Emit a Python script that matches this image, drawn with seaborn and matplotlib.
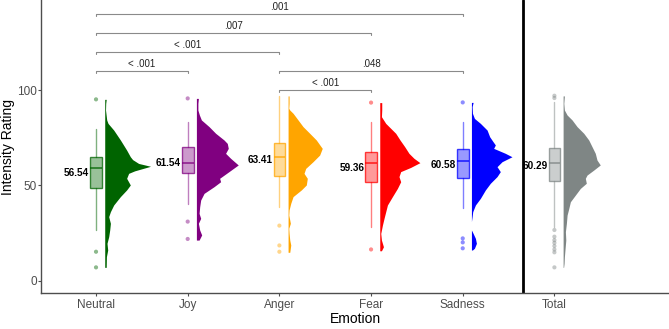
import numpy as np
import pandas as pd
import matplotlib
matplotlib.use("Agg")
import matplotlib.pyplot as plt
import matplotlib.colors as mcolors
import seaborn as sns

# --- data -----------------------------------------------------------------
emotions = ["Neutral", "Joy", "Anger", "Fear", "Sadness", "Total"]
colors = ["#006400", "#800080", "#FFA500", "#FF0000", "#0000FF", "#7F8685"]
means = [56.54, 61.54, 63.41, 59.36, 60.58, 60.29]

# box statistics
whislo = [26.6, 40.2, 38.5, 28.0, 37.9, 28.3]
q1 = [48.8, 56.5, 54.9, 51.6, 54.0, 52.5]
med = [59.3, 61.7, 65.0, 61.5, 62.6, 61.9]
q3 = [64.7, 69.9, 72.0, 67.7, 68.9, 69.4]
whishi = [79.4, 83.0, 96.9, 83.4, 83.4, 93.9]

out_neutral = [95.1, 15.2, 7.0]
out_joy = [95.6, 31.0, 21.9]
out_anger = [28.9, 18.5, 15.2]
out_fear = [93.4, 16.4]
out_sadness = [93.5, 22.2, 20.1, 17.0]
out_total = [97.0, 95.8, 26.6, 23.1, 21.3, 19.9, 18.2, 16.4, 14.9, 7.0]

# half-violin density profiles (rating, relative density)
dy_neutral = [95.1, 93.0, 89.5, 84.3, 82.5, 79.0, 73.8, 68.5, 65.0, 63.5, 61.5, 60.0, 58.8, 57.6, 56.3,
              53.7, 50.2, 47.6, 44.1, 39.7, 36.2, 33.6, 30.1, 26.6, 23.1, 19.6, 16.1, 12.6, 7.0]
dw_neutral = [1.5, 1.0, 0.8, 2.0, 3.3, 9.0, 15.7, 22.0, 25.7, 28.0, 34.0, 46.0, 38.0, 30.0, 24.0,
              22.0, 25.7, 22.0, 15.7, 9.0, 5.7, 4.0, 5.7, 5.0, 4.0, 2.3, 3.0, 1.7, 1.5]

dy_joy = [95.6, 93.0, 89.5, 86.9, 84.3, 80.8, 77.3, 73.8, 72.0, 69.4, 66.8, 64.2, 60.7, 57.2, 53.7,
          51.9, 49.3, 45.8, 42.3, 38.8, 35.3, 32.7, 30.1, 26.6, 24.0, 21.3]
dw_joy = [2.0, 1.5, 1.5, 3.0, 5.0, 12.7, 19.3, 27.7, 31.0, 32.0, 29.3, 34.3, 42.0, 32.7, 23.3,
          24.3, 17.7, 7.7, 4.3, 3.3, 2.7, 4.3, 2.0, 3.3, 5.3, 2.7]

dy_anger = [96.9, 93.0, 90.4, 89.5, 87.8, 84.3, 80.8, 77.3, 73.8, 69.4, 65.9, 62.4, 58.9, 56.3,
            53.7, 50.2, 47.6, 44.1, 40.6, 37.1, 34.4, 31.8, 30.1, 27.5, 24.8, 21.3, 18.7, 14.9]
dw_anger = [1.0, 1.0, 0.7, 1.7, 5.0, 10.0, 15.0, 21.7, 28.3, 34.3, 31.7, 25.0, 17.7, 16.0,
            19.3, 18.3, 13.3, 5.0, 2.7, 1.0, 0.7, 1.7, 2.3, 0.7, 1.0, 1.7, 2.7, 1.7]

dy_fear = [93.4, 89.5, 86.0, 82.5, 79.9, 77.3, 73.8, 70.3, 66.8, 64.2, 61.9, 59.4, 57.2, 54.6,
           51.9, 48.4, 44.1, 39.7, 36.2, 32.7, 29.2, 24.8, 21.3, 17.8, 15.7]
dw_fear = [2.0, 2.0, 1.7, 6.0, 11.0, 16.0, 20.3, 25.0, 29.3, 34.3, 40.3, 31.0, 21.0, 19.3,
           21.0, 17.7, 12.7, 7.7, 6.0, 4.3, 2.7, 1.0, 1.7, 3.7, 1.7]

dy_sadness = [93.5, 91.3, 87.8, 85.1, 82.5, 79.0, 75.5, 72.9, 71.2, 69.4, 66.8, 65.0, 62.4, 59.8,
              57.2, 54.6, 51.1, 47.6, 43.2, 39.7, 36.2, 33.6, 31.0, 26.6, 24.8, 22.2, 19.6, 17.0, 16.1]
dw_sadness = [1.7, 0.7, 1.0, 3.0, 9.0, 15.7, 18.3, 21.7, 24.0, 22.3, 34.0, 40.7, 30.7, 25.7,
              29.0, 25.7, 19.0, 14.0, 9.0, 4.0, 1.3, 0.7, 0.0, 0.0, 1.7, 4.0, 5.0, 3.0, 1.0]

dy_total = [96.9, 93.0, 89.5, 86.9, 84.3, 80.8, 77.3, 73.8, 70.3, 66.8, 63.3, 60.7, 58.0, 55.4,
            53.7, 51.1, 48.4, 44.9, 41.4, 37.9, 34.4, 30.1, 25.7, 21.3, 17.0, 12.6, 9.1, 7.0]
dw_total = [1.3, 0.7, 1.3, 4.0, 9.0, 14.0, 20.7, 25.7, 29.0, 32.3, 34.0, 37.3, 30.7, 24.0,
            22.3, 23.3, 17.3, 12.3, 7.3, 5.7, 4.0, 3.3, 2.3, 2.7, 2.0, 1.3, 1.0, 0.5]

# pairwise comparisons: (from, to, level, label)
comp_from = ["Neutral", "Neutral", "Neutral", "Neutral", "Anger", "Anger"]
comp_to = ["Sadness", "Fear", "Anger", "Joy", "Sadness", "Fear"]
comp_y = [140, 130, 120, 110, 110, 100]
comp_label = [".001", ".007", "< .001", "< .001", ".048", "< .001"]

outliers = [out_neutral, out_joy, out_anger, out_fear, out_sadness, out_total]
dens_y = [dy_neutral, dy_joy, dy_anger, dy_fear, dy_sadness, dy_total]
dens_w = [dw_neutral, dw_joy, dw_anger, dw_fear, dw_sadness, dw_total]

# --- plot ------------------------------------------------------------------
sns.set_style("white")
plt.rcParams['font.family'] = ['Liberation Sans', 'DejaVu Sans']

fig = plt.figure(figsize=(6.69, 3.29), dpi=100)
ax = fig.add_axes([0.0613, 0.1085, 0.9387, 0.8915])

pos = np.arange(1, len(emotions) + 1)
box_w = 0.127
v_off = 0.095
v_scale = 1 / 92

# half violins
for p, col, ys, ws in zip(pos, colors, dens_y, dens_w):
    ys = np.array(ys)
    ws = np.array(ws) * v_scale
    ax.fill_betweenx(ys, p + v_off, p + v_off + ws, color=col, lw=0)

# boxes
stats = [dict(whislo=a, q1=b, med=c, q3=d, whishi=e, fliers=[])
         for a, b, c, d, e in zip(whislo, q1, med, q3, whishi)]
bp = ax.bxp(stats, positions=pos, widths=box_w, patch_artist=True,
            showfliers=False, showcaps=False)
for i, col in enumerate(colors):
    bp['boxes'][i].set_facecolor(mcolors.to_rgba(col, 0.4))
    bp['boxes'][i].set_edgecolor(mcolors.to_rgba(col, 0.75))
    bp['boxes'][i].set_linewidth(1.0)
    bp['medians'][i].set_color(mcolors.to_rgba(col, 0.85))
    bp['medians'][i].set_linewidth(1.1)
    for w in bp['whiskers'][2 * i:2 * i + 2]:
        w.set_color(mcolors.to_rgba(col, 0.5))
        w.set_linewidth(1.0)

# outliers
df_out = pd.DataFrame({
    "emotion": [e for e, o in zip(emotions, outliers) for _ in o],
    "x": [p for p, o in zip(pos, outliers) for _ in o],
    "rating": [v for o in outliers for v in o],
})
sns.scatterplot(data=df_out, x="x", y="rating", hue="emotion",
                palette=dict(zip(emotions, colors)), s=9, alpha=0.45,
                linewidth=0, legend=False, ax=ax)

# mean labels
for p, m in zip(pos, means):
    ax.text(p - box_w / 2 - 0.01, m, f"{m:.2f}", ha="right", va="center",
            fontsize=7.2, fontweight="bold", color="black")

# comparison brackets
idx = dict(zip(emotions, pos))
for a, b, y, lab in zip(comp_from, comp_to, comp_y, comp_label):
    x0, x1 = idx[a], idx[b]
    ax.plot([x0, x0, x1, x1], [y - 1.3, y, y, y - 1.3], color="#8a8a8a", lw=0.8)
    ax.text((x0 + x1) / 2, y + 1.0, lab, ha="center", va="bottom",
            fontsize=7, color="#222222")

# separator before Total
ax.axvline(5.66, color="black", lw=2)

ax.set_xlim(0.4, 7.25)
ax.set_ylim(-6.6, 147.2)
ax.set_xticks(pos)
ax.set_xticklabels(emotions)
ax.set_yticks([0, 50, 100])
ax.tick_params(axis="both", labelsize=8.5, labelcolor="#4d4d4d", color="#4d4d4d",
               length=2, width=0.8, direction="out", bottom=True, left=True)
ax.tick_params(axis="x", pad=2)
ax.tick_params(axis="y", pad=1)
ax.set_xlabel("Emotion", fontsize=10, color="black")
ax.set_ylabel("Intensity Rating", fontsize=10, color="black")
ax.xaxis.set_label_coords(0.5, -0.064)
ax.yaxis.set_label_coords(-0.0414, 0.5)
sns.despine(ax=ax)
for s in ["left", "bottom"]:
    ax.spines[s].set_color("#4d4d4d")
    ax.spines[s].set_linewidth(1.0)

fig.savefig("out.png", dpi=100)
